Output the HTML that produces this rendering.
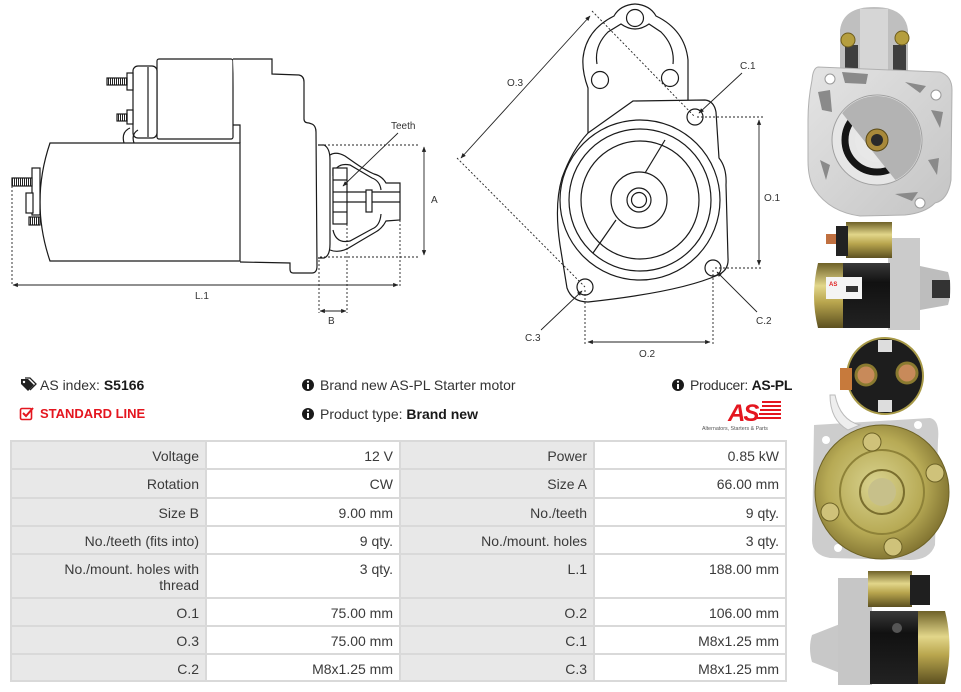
<!DOCTYPE html>
<html><head><meta charset="utf-8">
<style>
*{margin:0;padding:0;box-sizing:border-box}
body{width:961px;height:692px;background:#fff;position:relative;overflow:hidden;font-family:"Liberation Sans",Arial,sans-serif;color:#333}
.abs{position:absolute;white-space:nowrap}
.info{font-size:14px;line-height:16px;color:#333}
.info b{color:#1a1a1a}
#tbl{position:absolute;left:10px;top:440px;width:777px;height:242px;background:#d9d9d9}
.c{position:absolute;font-size:14px;line-height:16px;color:#3a3a3a;text-align:right;padding-right:6px;padding-top:6px}
.l{background:#e8e8e8}
.v{background:#fff}
</style></head><body>

<svg class="abs" style="left:0;top:0" width="961" height="692" viewBox="0 0 961 692" xmlns="http://www.w3.org/2000/svg">
<defs>
<pattern id="hat" width="2" height="4" patternUnits="userSpaceOnUse"><rect width="2" height="4" fill="#fff"/><rect width="1" height="4" fill="#222"/></pattern>
<marker id="ar" viewBox="0 0 10 10" refX="9" refY="5" markerWidth="6" markerHeight="6" orient="auto-start-reverse"><path d="M0,1 L10,5 L0,9 Z" fill="#222"/></marker>
<linearGradient id="gold" x1="0" y1="0" x2="0" y2="1"><stop offset="0" stop-color="#6e6128"/><stop offset="0.35" stop-color="#e2d68a"/><stop offset="0.6" stop-color="#b9a64e"/><stop offset="1" stop-color="#5c5020"/></linearGradient>
<radialGradient id="goldr" cx="0.45" cy="0.45" r="0.6"><stop offset="0" stop-color="#d9d38f"/><stop offset="0.6" stop-color="#b7aa55"/><stop offset="1" stop-color="#7a6c2c"/></radialGradient>
<linearGradient id="alu" x1="0" y1="0" x2="1" y2="1"><stop offset="0" stop-color="#e4e4e4"/><stop offset="1" stop-color="#c4c4c4"/></linearGradient>
<linearGradient id="blk" x1="0" y1="0" x2="0" y2="1"><stop offset="0" stop-color="#3a3a3a"/><stop offset="0.3" stop-color="#111"/><stop offset="1" stop-color="#222"/></linearGradient>
<clipPath id="disc"><circle cx="877" cy="140" r="44"/></clipPath>
</defs>

<!-- LEFT SIDE VIEW -->
<g fill="none" stroke="#1a1a1a" stroke-width="1.2">
  <rect x="157" y="59" width="76" height="80" rx="2" fill="#fff"/>
  <rect x="133" y="66" width="24" height="72" rx="5" fill="#fff"/>
  <line x1="148" y1="67" x2="148" y2="137"/>
  <rect x="127" y="73" width="6" height="17" fill="#fff"/>
  <rect x="107" y="78" width="20" height="7" fill="url(#hat)"/>
  <rect x="127" y="110" width="6" height="14" fill="#fff"/>
  <rect x="117" y="114" width="10" height="7" fill="url(#hat)"/>
  <path d="M124,143 Q121,132 130,128 M134,143 Q131,134 138,130"/>
  <path d="M233,59 L272,59 L272,74 L299,75 Q304,76 304,82 L304,119 Q304,123 309,123 L312,124 Q316,126 316,132 L317,266 Q317,273 312,273 L293,273 Q290,273 290,269 L290,263 L240,262" fill="#fff"/>
  <path d="M233,125 L240,125 L240,143"/>
  <path d="M50,143 L240,143 L240,261 L50,261 Q30,202 50,143 Z" fill="#fff"/>
  <rect x="32" y="168" width="8" height="47" fill="#fff"/>
  <rect x="12" y="178" width="20" height="8" fill="url(#hat)"/>
  <rect x="26" y="193" width="7" height="20" fill="#fff"/>
  <rect x="29" y="217" width="11" height="8" fill="url(#hat)"/>
  <path d="M318,145 L324,145 Q330,148 330,160 L330,244 Q330,256 324,258 L318,258" fill="#fff"/>
  <path d="M330,155 Q336,151 345,156 L355,163 Q365,170 374,174 Q382,176 386,183 L400,183 L400,220 L386,221 Q382,229 374,233 Q362,240 352,246 Q340,254 330,250"/>
  <path d="M333,168 L333,176 Q336,162 350,165 L372,178 Q380,181 381,190"/>
  <path d="M333,230 Q336,244 350,241 L372,229 Q380,226 381,214"/>
  <rect x="333" y="168" width="14" height="56" fill="#fff"/>
  <line x1="333" y1="180" x2="347" y2="180"/><line x1="333" y1="192" x2="347" y2="192"/><line x1="333" y1="202" x2="347" y2="202"/><line x1="333" y1="212" x2="347" y2="212"/>
  <line x1="347" y1="192" x2="400" y2="192"/><line x1="347" y1="202" x2="400" y2="202"/>
  <rect x="366" y="190" width="6" height="22" fill="#fff"/>
</g>
<g stroke="#222" stroke-width="0.9" fill="none">
  <path d="M320,145 L420,145 M320,257 L420,257" stroke-dasharray="2,2"/>
  <line x1="424" y1="147" x2="424" y2="255" marker-start="url(#ar)" marker-end="url(#ar)"/>
  <path d="M12,186 L12,286 M400,220 L400,286" stroke-dasharray="2,2"/>
  <line x1="13" y1="285" x2="398" y2="285" marker-start="url(#ar)" marker-end="url(#ar)"/>
  <path d="M319,260 L319,313 M347,224 L347,313" stroke-dasharray="2,2"/>
  <line x1="320" y1="311" x2="346" y2="311" marker-start="url(#ar)" marker-end="url(#ar)"/>
  <line x1="398" y1="133" x2="343" y2="186" marker-end="url(#ar)"/>
</g>
<g font-family="Liberation Sans, Arial, sans-serif" font-size="10" fill="#333">
  <text x="391" y="129">Teeth</text>
  <text x="431" y="203">A</text>
  <text x="195" y="299">L.1</text>
  <text x="328" y="324">B</text>
</g>

<!-- RIGHT END VIEW -->
<g fill="none" stroke="#1a1a1a" stroke-width="1.2">
  <path d="M588,133 L588,88 Q582,72 583,58 Q586,30 614,16 Q620,5 635,4 Q650,5 656,16 Q685,30 688,60 L688,100"/>
  <path d="M597,64 Q594,46 608,32 L621,24 Q635,34 649,24 L661,32 Q675,46 673,64"/>
  <circle cx="635" cy="18" r="8.5"/>
  <circle cx="600" cy="80" r="8.5"/>
  <circle cx="670" cy="78" r="8.5"/>
  <path d="M588,133 L633,101 L705,100 Q714,101 716,112 L719,158 Q727,168 726,185 L728,258 Q729,270 718,275 Q680,292 588,302 Q572,302 567,288 L560,245 Q554,205 562,178 Q572,150 588,133 Z" fill="#fff"/>
  <circle cx="640" cy="200" r="80"/>
  <circle cx="640" cy="200" r="71"/>
  <circle cx="640" cy="200" r="59"/>
  <line x1="665" y1="140" x2="645" y2="173"/>
  <line x1="616" y1="220" x2="593" y2="253"/>
  <circle cx="639" cy="200" r="28" fill="#fff"/>
  <circle cx="639" cy="200" r="12"/>
  <circle cx="639" cy="200" r="7.5"/>
  <circle cx="695" cy="117" r="8"/>
  <circle cx="713" cy="268" r="8"/>
  <circle cx="585" cy="287" r="8"/>
</g>
<g stroke="#222" stroke-width="0.9" fill="none">
  <path d="M592,11 L695,117 M457,158 L585,287" stroke-dasharray="2,2"/>
  <line x1="590" y1="16" x2="461" y2="158" marker-start="url(#ar)" marker-end="url(#ar)"/>
  <path d="M697,117 L763,117 M715,268 L763,268" stroke-dasharray="2,2"/>
  <line x1="759" y1="120" x2="759" y2="265" marker-start="url(#ar)" marker-end="url(#ar)"/>
  <path d="M585,290 L585,344 M713,270 L713,344" stroke-dasharray="2,2"/>
  <line x1="588" y1="342" x2="710" y2="342" marker-start="url(#ar)" marker-end="url(#ar)"/>
  <line x1="742" y1="73" x2="699" y2="113" marker-end="url(#ar)"/>
  <line x1="757" y1="312" x2="717" y2="272" marker-end="url(#ar)"/>
  <line x1="541" y1="330" x2="582" y2="291" marker-end="url(#ar)"/>
</g>
<g font-family="Liberation Sans, Arial, sans-serif" font-size="10" fill="#333">
  <text x="507" y="86">O.3</text>
  <text x="740" y="69">C.1</text>
  <text x="764" y="201">O.1</text>
  <text x="756" y="324">C.2</text>
  <text x="525" y="341">C.3</text>
  <text x="639" y="357">O.2</text>
</g>

<!-- PHOTO 1 -->
<g>
  <path d="M840,72 L840,30 Q843,7 874,7 Q905,7 908,30 L908,72 Z" fill="#bfbfbf"/>
  <rect x="860" y="9" width="28" height="62" fill="#d6d6d6"/>
  <rect x="845" y="45" width="13" height="26" fill="#3e3e3e"/>
  <rect x="893" y="45" width="13" height="26" fill="#3e3e3e"/>
  <circle cx="848" cy="40" r="7" fill="#b59e3e" stroke="#6d5c1c"/>
  <circle cx="902" cy="38" r="7" fill="#b59e3e" stroke="#6d5c1c"/>
  <path d="M818,67 L940,72 Q952,76 952,90 L951,180 Q948,200 935,203 Q925,213 905,215 L860,216 Q830,212 815,190 Q808,180 808,160 L808,120 Q808,100 812,80 Q813,68 818,67 Z" fill="url(#alu)" stroke="#b0b0b0"/>
  <g fill="#8a8a8a">
    <path d="M842,72 L868,74 L866,84 L845,83 Z"/>
    <path d="M905,82 L926,86 L920,93 Z"/>
    <path d="M818,92 L830,90 L832,112 L822,110 Z"/>
    <path d="M931,110 L943,112 L940,128 Z"/>
    <path d="M928,160 L939,158 L937,175 Z"/>
    <path d="M895,194 L918,192 L912,201 Z"/>
    <path d="M820,160 L830,165 L826,180 Z"/>
  </g>
  <circle cx="830" cy="79" r="5" fill="#fff" stroke="#999"/>
  <circle cx="936" cy="95" r="5" fill="#fff" stroke="#999"/>
  <circle cx="920" cy="203" r="5" fill="#fff" stroke="#999"/>
  <circle cx="877" cy="140" r="45" fill="#e6e6e6" stroke="#a0a0a0"/>
  <g clip-path="url(#disc)">
    <circle cx="877" cy="140" r="32" fill="none" stroke="#151515" stroke-width="7"/>
    <circle cx="877" cy="140" r="22" fill="#e8e8e8"/>
    <path d="M820,95 L838,108 L897,182 L930,200 L940,80 Z" fill="#b3b3b3"/>
  </g>
  <circle cx="877" cy="140" r="11" fill="#a8893a" stroke="#5a4a18"/>
  <circle cx="877" cy="140" r="6" fill="#2a2a2a"/>
</g>
<!-- PHOTO 2 -->
<g>
  <rect x="888" y="238" width="32" height="92" fill="#cbcbcb"/>
  <path d="M920,266 L948,272 Q953,288 948,305 L920,310 Z" fill="#bdbdbd"/>
  <rect x="932" y="280" width="18" height="18" fill="#333"/>
  <rect x="846" y="222" width="46" height="36" fill="url(#gold)"/>
  <rect x="836" y="226" width="12" height="30" fill="#222"/>
  <rect x="826" y="234" width="10" height="10" fill="#c07040"/>
  <path d="M818,263 L845,263 L845,328 L818,328 Q810,296 818,263 Z" fill="url(#gold)"/>
  <rect x="843" y="263" width="47" height="65" fill="url(#blk)"/>
  <rect x="826" y="277" width="36" height="22" fill="#f4f4f4"/>
  <text x="829" y="286" font-family="Liberation Sans, Arial, sans-serif" font-size="6" font-weight="bold" fill="#e02020">AS</text>
  <rect x="846" y="286" width="12" height="6" fill="#333"/>
</g>
<!-- PHOTO 3 -->
<g>
  <path d="M814,425 L930,418 Q940,420 938,440 L935,545 Q930,560 910,560 L830,558 Q812,555 812,540 Z" fill="#cdcdcd"/>
  <circle cx="826" cy="440" r="4" fill="#fff"/>
  <circle cx="918" cy="425" r="4" fill="#fff"/>
  <circle cx="838" cy="548" r="4" fill="#fff"/>
  <path d="M835,395 Q840,420 860,425 L848,430 Q830,420 830,395 Z" fill="#eee" stroke="#bbb"/>
  <circle cx="882" cy="492" r="67" fill="url(#goldr)" stroke="#6d6226"/>
  <circle cx="882" cy="492" r="42" fill="none" stroke="#8e8238" stroke-width="2"/>
  <circle cx="882" cy="492" r="22" fill="none" stroke="#7a6e2e" stroke-width="2"/>
  <circle cx="882" cy="492" r="14" fill="#c7c08a"/>
  <circle cx="872" cy="442" r="9" fill="#cfc27a" stroke="#6d6226"/>
  <circle cx="935" cy="473" r="9" fill="#cfc27a" stroke="#6d6226"/>
  <circle cx="830" cy="512" r="9" fill="#cfc27a" stroke="#6d6226"/>
  <circle cx="893" cy="547" r="9" fill="#cfc27a" stroke="#6d6226"/>
  <circle cx="885" cy="376" r="38" fill="#1d1d1d" stroke="#a89a48" stroke-width="2"/>
  <rect x="878" y="340" width="14" height="12" fill="#ddd"/>
  <rect x="878" y="400" width="14" height="12" fill="#ddd"/>
  <circle cx="866" cy="375" r="10" fill="#c88a5a" stroke="#8a7a30" stroke-width="3"/>
  <circle cx="907" cy="373" r="10" fill="#c88a5a" stroke="#8a7a30" stroke-width="3"/>
  <rect x="840" y="368" width="12" height="22" fill="#c77a3c"/>
</g>
<!-- PHOTO 4 -->
<g>
  <path d="M812,635 L840,624 L840,673 L812,662 Q808,648 812,635 Z" fill="#c8c8c8"/>
  <rect x="838" y="578" width="34" height="107" fill="#c6c6c6"/>
  <rect x="868" y="571" width="44" height="36" fill="url(#gold)"/>
  <rect x="910" y="575" width="20" height="30" fill="#1f1f1f"/>
  <rect x="870" y="611" width="48" height="73" fill="url(#blk)"/>
  <path d="M918,611 L945,611 Q954,647 945,684 L918,684 Z" fill="url(#gold)"/>
  <circle cx="897" cy="628" r="5" fill="#555"/>
</g>

<!-- icons -->
<path d="M21,379 L28,379 L34,385 L28,391 L21,384 Z" fill="#222"/>
<circle cx="24" cy="382" r="1.2" fill="#fff"/>
<path d="M25,378 L30,378 L36,384 L30,390" fill="none" stroke="#222" stroke-width="1.3"/>
<rect x="20.5" y="408.5" width="11" height="11" fill="none" stroke="#e4161f" stroke-width="1.6" rx="1.5"/>
<path d="M23,413 L26,416 L33,408" fill="none" stroke="#e4161f" stroke-width="2"/>
<circle cx="308" cy="385" r="6" fill="#1a1a1a"/><rect x="307" y="384" width="2" height="5" fill="#fff"/><circle cx="308" cy="381.7" r="1.1" fill="#fff"/>
<circle cx="308" cy="414" r="6" fill="#1a1a1a"/><rect x="307" y="413" width="2" height="5" fill="#fff"/><circle cx="308" cy="410.7" r="1.1" fill="#fff"/>
<circle cx="678" cy="385" r="6" fill="#1a1a1a"/><rect x="677" y="384" width="2" height="5" fill="#fff"/><circle cx="678" cy="381.7" r="1.1" fill="#fff"/>
<g fill="#e4161f">
  <rect x="762" y="401" width="19" height="2"/><rect x="762" y="405" width="19" height="2"/><rect x="760" y="409" width="21" height="2"/><rect x="759" y="413" width="22" height="2"/><rect x="757" y="417" width="24" height="2"/>
  <text x="728" y="421" font-family="Liberation Sans, Arial, sans-serif" font-size="24" font-weight="bold" font-style="italic" letter-spacing="-2">AS</text>
</g>
<text x="702" y="430" font-family="Liberation Sans, Arial, sans-serif" font-size="5.3" fill="#555">Alternators, Starters &amp; Parts</text>
</svg>

<div class="abs info" style="left:40px;top:377px">AS index: <b>S5166</b></div>
<div class="abs info" style="left:40px;top:406px;color:#e4161f;font-weight:bold;font-size:13px">STANDARD LINE</div>
<div class="abs info" style="left:320px;top:377px">Brand new AS-PL Starter motor</div>
<div class="abs info" style="left:320px;top:406px">Product type: <b>Brand new</b></div>
<div class="abs info" style="left:690px;top:377px;letter-spacing:-0.3px">Producer: <b>AS-PL</b></div>

<div id="tbl">
  <div class="c l" style="left:2px;top:2px;width:193px;height:26px">Voltage</div>
  <div class="c v" style="left:197px;top:2px;width:192px;height:26px">12 V</div>
  <div class="c l" style="left:391px;top:2px;width:192px;height:26px">Power</div>
  <div class="c v" style="left:585px;top:2px;width:190px;height:26px">0.85 kW</div>
  <div class="c l" style="left:2px;top:30px;width:193px;height:27px">Rotation</div>
  <div class="c v" style="left:197px;top:30px;width:192px;height:27px">CW</div>
  <div class="c l" style="left:391px;top:30px;width:192px;height:27px">Size A</div>
  <div class="c v" style="left:585px;top:30px;width:190px;height:27px">66.00 mm</div>
  <div class="c l" style="left:2px;top:59px;width:193px;height:26px">Size B</div>
  <div class="c v" style="left:197px;top:59px;width:192px;height:26px">9.00 mm</div>
  <div class="c l" style="left:391px;top:59px;width:192px;height:26px">No./teeth</div>
  <div class="c v" style="left:585px;top:59px;width:190px;height:26px">9 qty.</div>
  <div class="c l" style="left:2px;top:87px;width:193px;height:26px">No./teeth (fits into)</div>
  <div class="c v" style="left:197px;top:87px;width:192px;height:26px">9 qty.</div>
  <div class="c l" style="left:391px;top:87px;width:192px;height:26px">No./mount. holes</div>
  <div class="c v" style="left:585px;top:87px;width:190px;height:26px">3 qty.</div>
  <div class="c l" style="left:2px;top:115px;width:193px;height:42px">No./mount. holes with<br>thread</div>
  <div class="c v" style="left:197px;top:115px;width:192px;height:42px">3 qty.</div>
  <div class="c l" style="left:391px;top:115px;width:192px;height:42px">L.1</div>
  <div class="c v" style="left:585px;top:115px;width:190px;height:42px">188.00 mm</div>
  <div class="c l" style="left:2px;top:159px;width:193px;height:26px">O.1</div>
  <div class="c v" style="left:197px;top:159px;width:192px;height:26px">75.00 mm</div>
  <div class="c l" style="left:391px;top:159px;width:192px;height:26px">O.2</div>
  <div class="c v" style="left:585px;top:159px;width:190px;height:26px">106.00 mm</div>
  <div class="c l" style="left:2px;top:187px;width:193px;height:26px">O.3</div>
  <div class="c v" style="left:197px;top:187px;width:192px;height:26px">75.00 mm</div>
  <div class="c l" style="left:391px;top:187px;width:192px;height:26px">C.1</div>
  <div class="c v" style="left:585px;top:187px;width:190px;height:26px">M8x1.25 mm</div>
  <div class="c l" style="left:2px;top:215px;width:193px;height:25px">C.2</div>
  <div class="c v" style="left:197px;top:215px;width:192px;height:25px">M8x1.25 mm</div>
  <div class="c l" style="left:391px;top:215px;width:192px;height:25px">C.3</div>
  <div class="c v" style="left:585px;top:215px;width:190px;height:25px">M8x1.25 mm</div>
</div>
</body></html>
